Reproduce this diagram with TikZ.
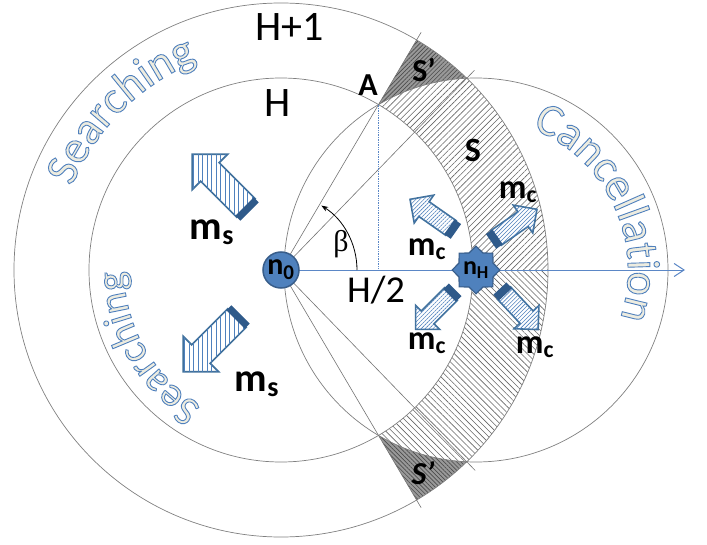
\documentclass[tikz,border=0pt]{standalone}
\usepackage{fontspec}
\setmainfont{Carlito}
\newfontfamily\greekfont{Liberation Serif}
\usetikzlibrary{arrows.meta, patterns.meta, shapes.geometric, decorations.text}

\definecolor{nodeblue}{HTML}{4F81BD}
\definecolor{nodeedge}{HTML}{385D8A}
\definecolor{arrowedge}{HTML}{41719C}
\definecolor{arrowdark}{HTML}{2F5A8A}
\definecolor{axisblue}{HTML}{5B87C6}

% texte WordArt : fond creme, contour bleu
\newcommand{\artfont}[1]{\fontsize{#1}{#1}\selectfont\special{pdf:literal 0.93 0.925 0.88 rg 0.31 0.5 0.74 RG 0.9 w 2 Tr}}

\tikzset{
  pics/msarrow/.style={code={
    \draw[arrowbody, fill=white, postaction={pattern={Lines[angle=#1,distance=4.5pt,line width=0.7pt]}, pattern color=nodeblue}]
      (0,-13) -- (51,-13) -- (51,-25) -- (76,0) -- (51,25) -- (51,13) -- (0,13) -- cycle;
    \fill[arrowdark] (-5,-13) rectangle (2,13);
  }},
  pics/mcarrow/.style={code={
    \draw[arrowbody, fill=white, postaction={pattern={Lines[angle=#1,distance=2.8pt,line width=0.6pt]}, pattern color=nodeblue}]
      (0,-9) -- (33,-9) -- (33,-17) -- (50,0) -- (33,17) -- (33,9) -- (0,9) -- cycle;
    \fill[arrowdark] (-6,-9) rectangle (2,9);
  }},
}

\begin{document}
\begin{tikzpicture}[x=1pt, y=1pt,
  ring/.style={draw=black!50, line width=0.7pt},
  ray/.style={draw=black!55, line width=0.6pt},
  hatchup/.style={pattern={Lines[angle=45,distance=4.3pt,line width=0.6pt]}, pattern color=black!60},
  hatchdown/.style={pattern={Lines[angle=-45,distance=4.3pt,line width=0.6pt]}, pattern color=black!60},
  arrowbody/.style={draw=arrowedge, line width=1.6pt, line join=miter},
  lbl/.style={font=\fontsize{42}{42}\selectfont, inner sep=0pt},
  blbl/.style={font=\fontsize{32}{32}\selectfont\bfseries, inner sep=0pt},
  mlbl/.style={font=\fontsize{40}{40}\selectfont\bfseries, inner sep=0pt},
  clbl/.style={font=\fontsize{34}{34}\selectfont\bfseries, inner sep=0pt},
]
  \useasboundingbox (-281,-274) rectangle (426,270);
  % angles de A et B (vus de n0 et de nH)
  \def\aA{59.48}
  \def\aAH{120.52}
  \def\aB{45.91}
  \def\aBH{92.76}
  \coordinate (c0) at (0,0);
  \coordinate (cH) at (195,0);
  \coordinate (A) at (\aA:192);
  \coordinate (axisend) at (404,0);

  %zone S
  \path[hatchup] (A) arc[start angle=\aAH, end angle=\aBH, radius=192]
    arc[start angle=\aB, end angle=0, radius=267] -- (192,0)
    arc[start angle=0, end angle=\aA, radius=192] -- cycle;
  \path[hatchdown] (-\aA:192) arc[start angle=-\aAH, end angle=-\aBH, radius=192]
    arc[start angle=-\aB, end angle=0, radius=267] -- (192,0)
    arc[start angle=0, end angle=-\aA, radius=192] -- cycle;
  %zones S'
  \path[fill=black!40, postaction={pattern={Lines[angle=45,distance=3pt,line width=0.6pt]}, pattern color=black!70}]
    (A) -- (\aA:267) arc[start angle=\aA, end angle=\aB, radius=267]
    arc[start angle=\aBH, end angle=\aAH, radius=192] -- cycle;
  \path[fill=black!40, postaction={pattern={Lines[angle=-45,distance=3pt,line width=0.6pt]}, pattern color=black!70}]
    (-\aA:192) -- (-\aA:267) arc[start angle=-\aA, end angle=-\aB, radius=267]
    arc[start angle=-\aBH, end angle=-\aAH, radius=192] -- cycle;

  %cercles
  \draw[ring] (c0) circle (192);
  \draw[ring] (c0) circle (267);
  \draw[ring] (cH) circle (192);
  \foreach \a/\r in {\aA/276, \aB/278, -\aA/276, -\aB/279}{
    \draw[ray] (c0) -- (\a:\r);
  }
  \draw[axisblue, densely dotted, line width=0.7pt] (A) -- (A |- c0);
  \draw[axisblue, line width=1pt, -{Straight Barb[length=10pt,width=13pt]}] (c0) -- (axisend);
  \draw[line width=0.8pt, -{Stealth[length=7pt,width=5pt]}] (76,0) arc[start angle=0, end angle=58, radius=76];

  %messages
  \pic[rotate=135] at (-35,62) {msarrow=90};
  \pic[rotate=225] at (-44,-48) {msarrow=90};
  \pic[rotate=145] at (170,42) {mcarrow=45};
  \pic[rotate=35] at (215,32) {mcarrow=45};
  \pic[rotate=225] at (170,-24) {mcarrow=45};
  \pic[rotate=-47] at (223,-23) {mcarrow=45};

  %noeuds
  \node[circle, fill=nodeblue, draw=nodeedge, line width=1.5pt, minimum size=36pt, inner sep=0pt,
    font=\fontsize{30}{30}\selectfont\bfseries] (n0) at (c0) {n\textsubscript{0}};
  \node[star, star points=8, star point ratio=1.3, fill=nodeblue, draw=nodeedge, line width=1.2pt,
    minimum size=46pt, inner sep=0pt, font=\fontsize{26}{26}\selectfont\bfseries] (nH) at (cH) {n\textsubscript{H}};

  %etiquettes
  \node[lbl] (hone) at (9,243) {H+1};
  \node[lbl] (hlab) at (-3,167) {H};
  \node[lbl, font=\fontsize{38}{38}\selectfont] (half) at (95,-20) {H/2};
  \node[font=\fontsize{30}{30}\greekfont, inner sep=0pt] (beta) at (60,26) {β};
  \node[blbl] (alab) at (87,185) {A};
  \node[blbl] (sptop) at (143,200) {S’};
  \node[blbl, font=\fontsize{34}{34}\selectfont\bfseries] (slab) at (192,120) {S};
  \node[blbl, font=\fontsize{32}{32}\selectfont\bfseries\itshape] (spbot) at (142,-203) {S’};
  \node[mlbl] (ms1) at (-69,38) {m\textsubscript{s}};
  \node[mlbl] (ms2) at (-24,-114) {m\textsubscript{s}};
  \node[clbl] (mc1) at (146,21) {m\textsubscript{c}};
  \node[clbl] (mc2) at (237,78) {m\textsubscript{c}};
  \node[clbl] (mc3) at (146,-73) {m\textsubscript{c}};
  \node[clbl] (mc4) at (254,-77) {m\textsubscript{c}};

  %textes courbes
  \path[decorate, decoration={text along path, text={|\artfont{46}|Searching}, text align=center}]
    (165:225) arc[start angle=165, end angle=105, radius=225];
  \path[decorate, decoration={text along path, text={|\artfont{41}|Searching}, text align=center}]
    (250:157) arc[start angle=250, end angle=170, radius=157];
  \path[shift={(cH)}, decorate, decoration={text along path, text={|\artfont{46}|Cancellation}, text align=center}]
    (80:152) arc[start angle=80, end angle=-30, radius=152];
\end{tikzpicture}
\end{document}
